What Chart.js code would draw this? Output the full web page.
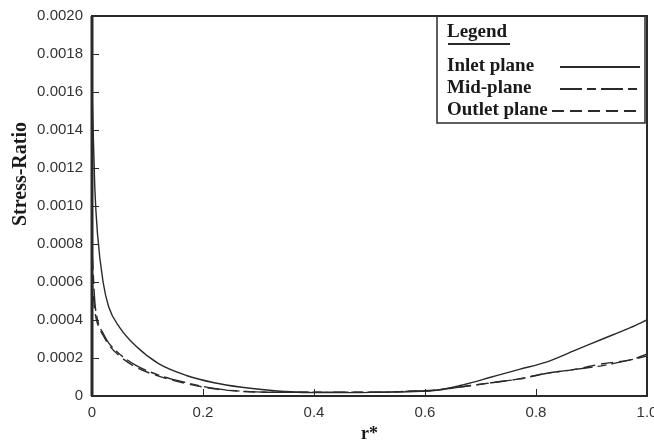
<!DOCTYPE html>
<html>
<head>
<meta charset="utf-8">
<script src="https://cdn.jsdelivr.net/npm/chart.js@4/dist/chart.umd.min.js"></script>
<style>
  html, body { margin: 0; padding: 0; background: #fff; }
  #wrap { width: 654px; height: 445px; }
</style>
</head>
<body>
<div id="wrap"><canvas id="stress-chart" width="654" height="445"></canvas></div>
<script>
// r* positions
const r_vals = [0, 0.005, 0.01, 0.02, 0.03, 0.05, 0.08, 0.12, 0.17, 0.22, 0.27, 0.32, 0.37, 0.42, 0.47, 0.52, 0.57, 0.62, 0.67, 0.72, 0.77, 0.82, 0.87, 0.92, 0.97, 1.0];
const inlet = [0.00162, 0.00110, 0.00085, 0.00060, 0.00047, 0.00036, 0.00026, 0.00017, 0.000108, 0.00007, 0.000046, 0.00003, 0.00002, 0.000018, 0.000018, 0.00002, 0.000022, 0.00003, 0.00006, 0.00010, 0.00014, 0.00018, 0.00024, 0.00030, 0.00036, 0.00040];
const mid = [0.00078, 0.00050, 0.00040, 0.00033, 0.00028, 0.00022, 0.00016, 0.00011, 0.00007, 0.00004, 0.000025, 0.00002, 0.00002, 0.00002, 0.00002, 0.00002, 0.000025, 0.00003, 0.00005, 0.00007, 0.00009, 0.00012, 0.00014, 0.00016, 0.00019, 0.00021];
const outlet = [0.00062, 0.00045, 0.00038, 0.00032, 0.00027, 0.00021, 0.00015, 0.000105, 0.000065, 0.000038, 0.000024, 0.00002, 0.00002, 0.00002, 0.00002, 0.00002, 0.000025, 0.000032, 0.00005, 0.00007, 0.00009, 0.00012, 0.00014, 0.00017, 0.00019, 0.00022];
const series_names = ["Inlet plane", "Mid-plane", "Outlet plane"];
const x_ticks = [0, 0.2, 0.4, 0.6, 0.8, 1.0];
const y_title = "Stress-Ratio";

const ink = "#2a2a2a";
const serif = "'Liberation Serif', 'DejaVu Serif', serif";

function pts(ys) {
	return r_vals.map((r, i) => ({x: r, y: ys[i]}));
}

function line_set(label, ys, dash) {
	return {
		label: label,
		data: pts(ys),
		borderColor: ink,
		borderWidth: 1.4,
		borderDash: dash,
		pointRadius: 0,
		cubicInterpolationMode: "monotone",
		fill: false
	};
}

// no label overhang, the layout padding decides the plot edges
function no_overhang(s) {
	s.paddingTop = 0;
	s.paddingBottom = 0;
	s.paddingLeft = 0;
	s.paddingRight = 0;
}

// frame, inward tick marks, y title and the boxed legend
const frame_plugin = {
	id: "frame",
	afterDraw(chart) {
		const ctx = chart.ctx;
		const a = chart.chartArea;
		const xs = chart.scales.x, ys = chart.scales.y;
		ctx.save();
		ctx.strokeStyle = ink;
		ctx.lineWidth = 2;
		ctx.strokeRect(a.left, a.top, a.right - a.left, a.bottom - a.top);
		ctx.lineWidth = 3;
		ctx.beginPath();
		ctx.moveTo(a.left, a.top);
		ctx.lineTo(a.left, a.bottom);
		ctx.stroke();
		ctx.lineWidth = 1;
		for (let v = 0.0002; v < 0.002; v += 0.0002) {
			const py = Math.round(ys.getPixelForValue(v)) + 0.5;
			ctx.beginPath();
			ctx.moveTo(a.left, py);
			ctx.lineTo(a.left + 7, py);
			ctx.stroke();
		}
		for (let v of x_ticks.slice(1, -1)) {
			const px = Math.round(xs.getPixelForValue(v)) + 0.5;
			ctx.beginPath();
			ctx.moveTo(px, a.bottom);
			ctx.lineTo(px, a.bottom - 7);
			ctx.stroke();
		}

		// y title sits a bit above the middle in the original
		ctx.fillStyle = "#1a1a1a";
		ctx.font = "bold 20px " + serif;
		ctx.textAlign = "center";
		ctx.textBaseline = "middle";
		ctx.translate(21, 174);
		ctx.rotate(-Math.PI / 2);
		ctx.fillText(y_title, 0, 0);
		ctx.setTransform(1, 0, 0, 1, 0, 0);

		// legend box
		const lx = 437, ly = a.top, lw = a.right - 2 - 437, lh = 107;
		ctx.lineWidth = 1.5;
		ctx.strokeRect(lx, ly, lw, lh);
		ctx.textAlign = "left";
		ctx.font = "bold 19px " + serif;
		ctx.fillText("Legend", 447, 32);
		ctx.lineWidth = 1.8;
		ctx.beginPath();
		ctx.moveTo(448, 44);
		ctx.lineTo(510, 44);
		ctx.stroke();
		const rows = [66, 88, 110];
		const starts = [560, 560, 552];
		chart.data.datasets.forEach((ds, i) => {
			ctx.fillText(ds.label, 447, rows[i]);
			ctx.setLineDash(ds.borderDash || []);
			ctx.lineWidth = 1.8;
			ctx.beginPath();
			ctx.moveTo(starts[i], rows[i] + 1);
			ctx.lineTo(640, rows[i] + 1);
			ctx.stroke();
			ctx.setLineDash([]);
		});
		ctx.restore();
	}
};

const ctx = document.getElementById("stress-chart");
const chart = new Chart(ctx, {
	type: "line",
	data: {
		datasets: [
			line_set(series_names[0], inlet, []),
			line_set(series_names[1], mid, [22, 5, 9, 5]),
			line_set(series_names[2], outlet, [12, 6])
		]
	},
	options: {
		responsive: false,
		animation: false,
		layout: {autoPadding: false, padding: {left: 0, right: 7, top: 16, bottom: 0}},
		plugins: {
			legend: {display: false},
			tooltip: {enabled: false}
		},
		scales: {
			x: {
				type: "linear",
				min: 0,
				max: 1,
				afterBuildTicks: (s) => { s.ticks = x_ticks.map(v => ({value: v})); },
				afterFit: (s) => { s.height = 49; no_overhang(s); },
				grid: {display: false, drawTicks: false},
				border: {display: false},
				ticks: {
					padding: 8,
					color: "#333",
					font: {family: "'Liberation Sans', Arial, sans-serif", size: 15},
					callback: (v) => v === 0 ? "0" : v.toFixed(1)
				},
				title: {
					display: true,
					text: "r*",
					color: "#1a1a1a",
					padding: {top: 0, bottom: 0},
					font: {family: serif, size: 18, weight: "bold"}
				}
			},
			y: {
				min: 0,
				max: 0.002,
				afterFit: (s) => { s.width = 92; no_overhang(s); },
				grid: {display: false, drawTicks: false},
				border: {display: false},
				ticks: {
					stepSize: 0.0002,
					padding: 9,
					color: "#333",
					font: {family: "'Liberation Sans', Arial, sans-serif", size: 15},
					callback: (v) => v === 0 ? "0" : v.toFixed(4)
				}
			}
		}
	},
	plugins: [frame_plugin]
});
</script>
</body>
</html>
